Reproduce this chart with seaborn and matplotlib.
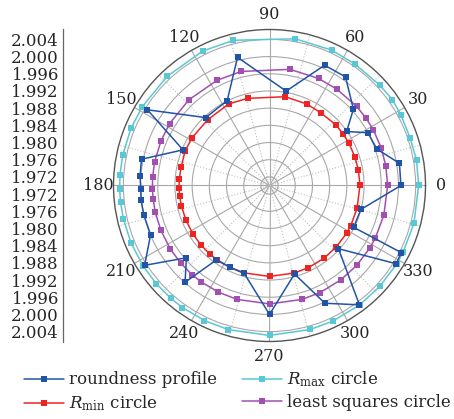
import numpy as np
import matplotlib
matplotlib.use("Agg")
import matplotlib.pyplot as plt
import seaborn as sns

sns.set_style("white")
plt.rcParams['font.family'] = ['DejaVu Serif']
plt.rcParams['mathtext.fontset'] = 'dejavuserif'

# ---- data (degrees / mm) ----
theta_circ = [0, 9.7, 18.7, 28.2, 35, 42.3, 55, 65.4, 80, 104, 116.5, 133.2, 148.2, 157.6,
              168.4, 175.8, 181.5, 186.4, 193, 202.5, 212.6, 221, 228.9, 234.5, 244.3, 254,
              270, 285.8, 295.2, 307, 317.5, 328.3, 333.4, 345.3]
r_max = [2.00470, 2.00472, 2.00455, 2.00470, 2.00488, 2.00470, 2.00455, 2.00466, 2.00466,
         2.00482, 2.00493, 2.00482, 2.00482, 2.00488, 2.00488, 2.00488, 2.00488, 2.00488,
         2.00488, 2.00488, 2.00488, 2.00488, 2.00488, 2.00488, 2.00488, 2.00488, 2.00488,
         2.00482, 2.00482, 2.00482, 2.00478, 2.00478, 2.00475, 2.00475]
r_min = [1.99105, 1.99100, 1.99095, 1.99095, 1.99090, 1.99093, 1.99070, 1.99086, 1.99098,
         1.99090, 1.99123, 1.99100, 1.99116, 1.99123, 1.99100, 1.99105, 1.99105, 1.99105,
         1.99105, 1.99105, 1.99110, 1.99110, 1.99116, 1.99116, 1.99116, 1.99116, 1.99116,
         1.99116, 1.99116, 1.99116, 1.99110, 1.99110, 1.99110, 1.99105]
r_lsc = [1.99749, 1.99745, 1.99742, 1.99742, 1.99740, 1.99738, 1.99735, 1.99740, 1.99744,
         1.99735, 1.99735, 1.99738, 1.99735, 1.99730, 1.99730, 1.99726, 1.99726, 1.99726,
         1.99730, 1.99735, 1.99740, 1.99744, 1.99749, 1.99749, 1.99752, 1.99756, 1.99756,
         1.99756, 1.99756, 1.99752, 1.99752, 1.99752, 1.99749, 1.99749]
theta_prof = [0, 9.7, 18.7, 28.2, 35, 42.3, 55, 65.4, 80, 104, 116.5, 133.2, 148.2, 157.6,
              168.4, 175.8, 181.5, 186.4, 193, 202.5, 212.6, 221, 228.9, 234.5, 244.3, 254,
              270, 285.8, 295.2, 307, 317.5, 328.3, 333.0, 333.6, 345.3]
r_prof = [2.00058, 2.00067, 1.99640, 1.99598, 1.99191, 1.99640, 2.00084, 2.00079, 1.99230,
          2.00074, 1.99207, 1.99167, 2.00342, 1.99177, 2.00040, 2.00021, 1.99995, 2.00007,
          2.00005, 1.99995, 2.00449, 1.99563, 1.99988, 1.99125, 1.99116, 1.99130,
          2.00000, 1.99140, 2.00028, 2.00477, 1.99177, 2.00465, 2.00442, 1.99186, 1.99198]
r_ticks = [1.972, 1.976, 1.980, 1.984, 1.988, 1.992, 1.996, 2.000, 2.004]
theta_ticks = list(range(0, 360, 30))
r_lo, r_hi = 1.970, 2.0063

c_prof, c_max, c_min, c_lsc = "#2153a6", "#5ac8d4", "#ee2424", "#a24fb2"

W, H = 454, 419
fig = plt.figure(figsize=(W / 100, H / 100), dpi=100)
cx, cy, R = 269.5, 185.5, 156
pos = [(cx - R) / W, (H - cy - R) / H, 2 * R / W, 2 * R / H]
ax = fig.add_axes(pos, projection='polar')

def closed(t, r):
    t = list(t) + [t[0]]
    r = list(r) + [r[0]]
    return np.deg2rad(t), np.array(r)

series = [
    (theta_prof, r_prof, c_prof, "roundness profile"),
    (theta_circ, r_min, c_min, r"$R_{\mathrm{min}}$ circle"),
    (theta_circ, r_max, c_max, r"$R_{\mathrm{max}}$ circle"),
    (theta_circ, r_lsc, c_lsc, "least squares circle"),
]
draw_order = [2, 3, 1, 0]
for i in draw_order:
    t, r, c, lab = series[i]
    tt, rr = closed(t, r)
    sns.lineplot(x=tt, y=rr, sort=False, estimator=None, ax=ax, color=c,
                 marker='s', markersize=4.8, markeredgewidth=0, linewidth=1.1, label=lab)
if ax.get_legend():
    ax.get_legend().remove()

ax.set_ylim(r_lo, r_hi)
ax.set_yticks(r_ticks)
ax.set_yticklabels([])
ax.set_xticks(np.deg2rad(theta_ticks))
ax.set_xticklabels([str(v) for v in theta_ticks], fontsize=11.5)
ax.set_xticks(np.deg2rad(np.arange(15, 360, 30)), minor=True)
ax.tick_params(axis='x', which='major', pad=0, length=4, color='#666666')
ax.tick_params(axis='x', which='minor', length=0)
ax.grid(True, which='major', color='#a8a8a8', linewidth=0.8, linestyle='-')
ax.xaxis.grid(True, which='minor', color='#c0c0c0', linewidth=0.8, linestyle=':')
ax.spines['polar'].set_color('#555555')
ax.spines['polar'].set_linewidth(1.0)
ax.set_xlabel('')
ax.set_ylabel('')

# left mirrored radial scale
axl = fig.add_axes([63 / W, pos[1], 0.0005, pos[3]])
span = r_hi - r_lo
axl.set_ylim(-span, span)
pos_t = [v - r_lo for v in r_ticks][::-1] + [-(v - r_lo) for v in r_ticks]
lab_t = ["%.3f" % v for v in r_ticks][::-1] + ["%.3f" % v for v in r_ticks]
axl.set_yticks(pos_t)
axl.set_yticklabels(lab_t, fontsize=12)
axl.set_xticks([])
for s in ['right', 'top', 'bottom']:
    axl.spines[s].set_visible(False)
axl.spines['left'].set_color('#666666')
axl.spines['left'].set_linewidth(0.9)
axl.tick_params(axis='y', direction='in', length=4, pad=3, color='#666666')
axl.patch.set_alpha(0)

handles, labels = [], []
hmap = {}
for line in ax.get_lines():
    hmap[line.get_label()] = line
for i in [0, 1, 2, 3]:
    lab = series[i][3]
    handles.append(hmap[lab])
    labels.append(lab)
fig.legend(handles, labels, ncol=2, loc='center', bbox_to_anchor=(0.522, 0.066),
           frameon=False, fontsize=12, handlelength=2.4, handletextpad=0.3,
           columnspacing=1.5, labelspacing=0.3, borderpad=0)

fig.savefig("out.png", dpi=100)
